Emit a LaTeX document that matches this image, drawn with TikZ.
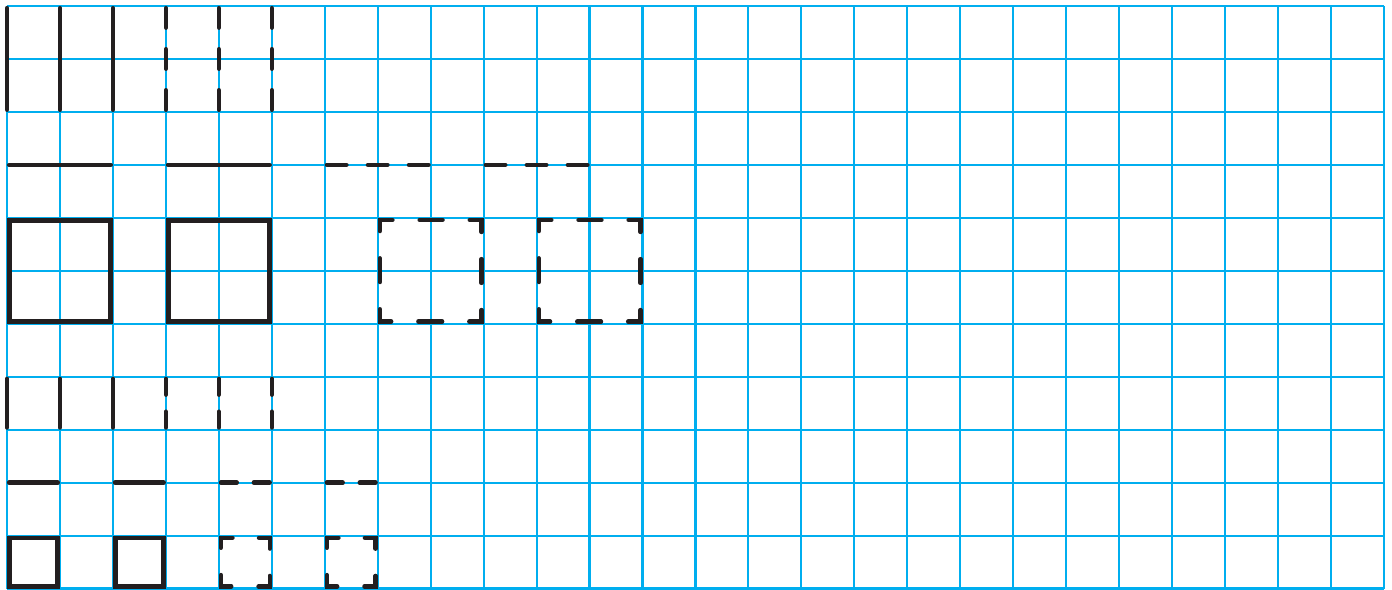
\documentclass[tikz,border=0pt]{standalone}
\definecolor{gridcyan}{RGB}{0,174,239}
\definecolor{ink}{RGB}{35,31,32}
\tikzset{
  gridline/.style={gridcyan, line width=0.04cm},
  solidline/.style={ink, line width=0.082cm, line cap=round},
  bigdash/.style={ink, line width=0.082cm, line cap=round, dash pattern=on 0.37cm off 0.405cm},
  smalldash/.style={ink, line width=0.082cm, line cap=round, dash pattern=on 0.30cm off 0.32cm},
  sqsolid/.style={ink, line width=0.09cm, line join=miter},
  bigsqdash/.style={ink, line width=0.082cm, line cap=round, line join=miter, dash pattern=on 0.45cm off 0.512cm, dash phase=0.225cm},
  smallsqdash/.style={ink, line width=0.082cm, line cap=round, line join=miter, dash pattern=on 0.41cm off 0.514cm, dash phase=0.667cm},
}
\begin{document}
\begin{tikzpicture}[yscale=-1]
  \useasboundingbox (-0.132,-0.113) rectangle (26.152,11.01);
  % grid
  \draw[gridline] (0,0) grid (26,11);
  % top vertical lines
  \foreach \x in {0,1,2} \draw[solidline] (\x,0.04) -- (\x,1.96);
  \foreach \x in {3,4,5} \draw[bigdash] (\x,0.04) -- (\x,1.96);
  % horizontal lines row 3
  \draw[solidline] (0.04,3) -- (1.96,3);
  \draw[solidline] (3.04,3) -- (4.96,3);
  \draw[bigdash] (6.04,3) -- (7.96,3);
  \draw[bigdash] (9.04,3) -- (10.96,3);
  % large squares
  \draw[sqsolid] (0.045,4.045) rectangle (1.955,5.955);
  \draw[sqsolid] (3.045,4.045) rectangle (4.955,5.955);
  \foreach \x in {7,10}
    \draw[bigsqdash] (\x+1,4.04) -- (\x+1.96,4.04) -- (\x+1.96,5.96) -- (\x+0.04,5.96) -- (\x+0.04,4.04) -- cycle;
  % small vertical lines
  \foreach \x in {0,1,2} \draw[solidline] (\x,7.04) -- (\x,7.96);
  \foreach \x in {3,4,5} \draw[smalldash] (\x,7.04) -- (\x,7.96);
  % small horizontal lines row 9
  \draw[solidline] (0.04,9) -- (0.96,9);
  \draw[solidline] (2.04,9) -- (2.96,9);
  \draw[smalldash] (4.04,9) -- (4.96,9);
  \draw[smalldash] (6.04,9) -- (6.96,9);
  % small squares
  \draw[sqsolid] (0.045,10.045) rectangle (0.955,10.955);
  \draw[sqsolid] (2.045,10.045) rectangle (2.955,10.955);
  \foreach \x in {4,6}
    \draw[smallsqdash] (\x+0.5,10.04) -- (\x+0.96,10.04) -- (\x+0.96,10.96) -- (\x+0.04,10.96) -- (\x+0.04,10.04) -- cycle;
\end{tikzpicture}
\end{document}
